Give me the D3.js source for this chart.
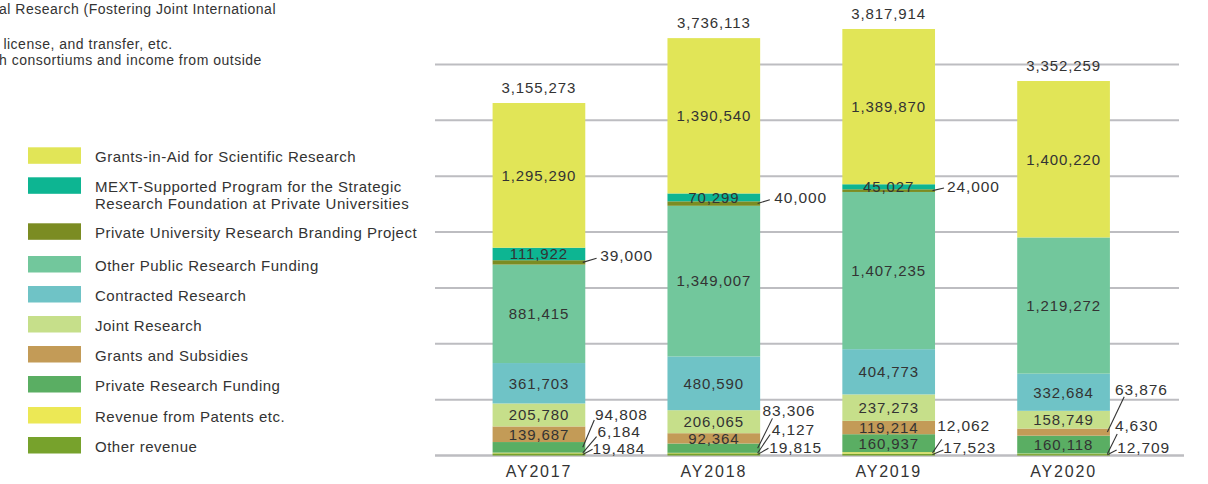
<!DOCTYPE html>
<html>
<head>
<meta charset="utf-8">
<script src="https://cdn.jsdelivr.net/npm/d3@7/dist/d3.min.js"></script>
<style>
body { margin: 0; background: #fff; }
svg text { font-family: "Liberation Sans", Arial, sans-serif; fill: #333; }
</style>
</head>
<body>
<div id="wrapper"></div>
<script>
// data (thousand yen)
const years = ["AY2017", "AY2018", "AY2019", "AY2020"];
const seriesNames = [
  "Grants-in-Aid for Scientific Research",
  "MEXT-Supported Program for the Strategic\nResearch Foundation at Private Universities",
  "Private University Research Branding Project",
  "Other Public Research Funding",
  "Contracted Research",
  "Joint Research",
  "Grants and Subsidies",
  "Private Research Funding",
  "Revenue from Patents etc.",
  "Other revenue"
];
const seriesColors = ["#e1e557", "#0db592", "#7b8c22", "#72c79c", "#6fc3c6",
  "#c6df8a", "#c39b57", "#5aae63", "#ece855", "#77a22c"];

const grantsInAid     = [1295290, 1390540, 1389870, 1400220];
const mextProgram     = [111922, 70299, 45027, 0];
const brandingProject = [39000, 40000, 24000, 0];
const otherPublic     = [881415, 1349007, 1407235, 1219272];
const contracted      = [361703, 480590, 404773, 332684];
const jointResearch   = [205780, 206065, 237273, 158749];
const grantsSubsidies = [139687, 92364, 119214, 63876];
const privateFunding  = [94808, 83306, 160937, 160118];
const patents         = [6184, 4127, 12062, 4630];
const otherRevenue    = [19484, 19815, 17523, 12709];
const totals          = [3155273, 3736113, 3817914, 3352259];
const yTicks = [0, 500000, 1000000, 1500000, 2000000, 2500000, 3000000, 3500000];

const notes = [
  "al Research (Fostering Joint International",
  " license, and transfer, etc.",
  "h consortiums and income from outside"
];

const seriesValues = [grantsInAid, mextProgram, brandingProject, otherPublic, contracted,
  jointResearch, grantsSubsidies, privateFunding, patents, otherRevenue];
const keys = seriesNames.map((d, i) => "s" + i);

const table = years.map((y, j) => {
  const row = {year: y};
  keys.forEach((k, i) => row[k] = seriesValues[i][j]);
  return row;
});

// which segments get an outside label, with a leader line
// tx: text left from bar right, ty: text centre from segment middle, ex/ey: line end from text left/centre
const callouts = [
  {year: "AY2017", s: 2, tx: 15, ty: -6.4, ex: -3.7, ey: 2.3},
  {year: "AY2018", s: 2, tx: 14, ty: -5.9, ex: -4.3, ey: 2},
  {year: "AY2019", s: 2, tx: 12, ty: -3.6, ex: -3, ey: 1},
  {year: "AY2017", s: 7, tx: 9.7, ty: -33, ex: -0.7, ey: 5.7},
  {year: "AY2018", s: 7, tx: 2.3, ty: -37.4, ex: 10, ey: 7.6},
  {year: "AY2020", s: 6, tx: 5, ty: -43, ex: 9.3, ey: 7.7},
  {year: "AY2017", s: 8, tx: 12.3, ty: -21.3, ex: -1, ey: 5},
  {year: "AY2018", s: 8, tx: 11.7, ty: -23.6, ex: -1.7, ey: 5},
  {year: "AY2019", s: 8, tx: 2.3, ty: -27.2, ex: 4.4, ey: 13.6},
  {year: "AY2020", s: 8, tx: 5, ty: -28.1, ex: 2.3, ey: 8.3},
  {year: "AY2017", s: 9, tx: 7.3, ty: -6.1, ex: 0, ey: 1},
  {year: "AY2018", s: 9, tx: 9, ty: -6.7, ex: -0.7, ey: 0.6},
  {year: "AY2019", s: 9, tx: 8.3, ty: -6.8, ex: 0, ey: 2.3},
  {year: "AY2020", s: 9, tx: 7.3, ty: -7.1, ex: -0.6, ey: 2.3}
];

const width = 1208, height = 484;
const fmt = d3.format(",");

const svg = d3.select("#wrapper")
  .append("svg")
  .attr("width", width)
  .attr("height", height);

const x = d3.scaleBand()
  .domain(years)
  .range([451.5, 1151])
  .paddingInner(0.47)
  .paddingOuter(0.235);

const y = d3.scaleLinear()
  .domain([0, 3500000])
  .range([455.5, 64.5]);

// grid
svg.append("g")
  .selectAll("line")
  .data(yTicks)
  .join("line")
  .attr("x1", 435)
  .attr("x2", d => d === 0 ? 1184 : 1179)
  .attr("y1", d => y(d))
  .attr("y2", d => y(d))
  .style("stroke", "#bdbdc1")
  .style("stroke-width", d => d === 0 ? 2.6 : 2);

// bars
const stack = d3.stack().keys(keys.slice().reverse());
const layers = stack(table);

const layerG = svg.append("g")
  .selectAll("g")
  .data(layers)
  .join("g")
  .style("fill", d => seriesColors[keys.indexOf(d.key)]);

layerG.selectAll("rect")
  .data(d => d)
  .join("rect")
  .attr("x", d => x(d.data.year))
  .attr("width", x.bandwidth())
  .attr("y", d => y(d[1]))
  .attr("height", d => y(d[0]) - y(d[1]));

// labels inside segments
const segs = [];
layers.forEach(layer => {
  const si = keys.indexOf(layer.key);
  layer.forEach(d => {
    segs.push({s: si, year: d.data.year, v: d[1] - d[0], mid: (y(d[0]) + y(d[1])) / 2});
  });
});
const isCallout = d => callouts.some(c => c.year === d.year && c.s === d.s);

svg.append("g")
  .selectAll("text")
  .data(segs.filter(d => d.v > 0 && !isCallout(d)))
  .join("text")
  .attr("x", d => x(d.year) + x.bandwidth() / 2)
  .attr("y", d => d.mid + 5.3)
  .attr("text-anchor", "middle")
  .style("font-size", "15px")
  .style("letter-spacing", "0.9px")
  .text(d => fmt(d.v));

// callouts
const calloutData = callouts.map(c => {
  const seg = segs.find(d => d.year === c.year && d.s === c.s);
  const right = x(c.year) + x.bandwidth();
  const tx = right + c.tx, ty = seg.mid + c.ty;
  return {v: seg.v, x0: right - 2.5, y0: seg.mid, tx: tx, ty: ty, x1: tx + c.ex, y1: ty + c.ey};
});

const cg = svg.append("g");
cg.selectAll("line")
  .data(calloutData)
  .join("line")
  .attr("x1", d => d.x0).attr("y1", d => d.y0)
  .attr("x2", d => d.x1).attr("y2", d => d.y1)
  .style("stroke", "#333")
  .style("stroke-width", 1.1);
cg.selectAll("text")
  .data(calloutData)
  .join("text")
  .attr("x", d => d.tx)
  .attr("y", d => d.ty + 5.4)
  .style("font-size", "15.5px")
  .style("letter-spacing", "0.9px")
  .text(d => fmt(d.v));

// totals
svg.append("g")
  .selectAll("text")
  .data(years)
  .join("text")
  .attr("x", d => x(d) + x.bandwidth() / 2)
  .attr("y", (d, i) => y(totals[i]) - 10)
  .attr("text-anchor", "middle")
  .style("font-size", "15px")
  .style("letter-spacing", "0.9px")
  .text((d, i) => fmt(totals[i]));

// x axis labels
svg.append("g")
  .selectAll("text")
  .data(years)
  .join("text")
  .attr("x", d => x(d) + x.bandwidth() / 2)
  .attr("y", 477)
  .attr("text-anchor", "middle")
  .style("font-size", "16px")
  .style("letter-spacing", "1.8px")
  .text(d => d);

// legend
const legendTop = [147.3, 177.3, 223.3, 256, 286, 316, 346, 376, 407, 437];
const legend = svg.append("g")
  .selectAll("g")
  .data(seriesNames)
  .join("g")
  .attr("transform", (d, i) => `translate(28,${legendTop[i]})`);
legend.append("rect")
  .attr("width", 53)
  .attr("height", 16.5)
  .style("fill", (d, i) => seriesColors[i]);
legend.append("text")
  .attr("x", 67)
  .attr("y", 14.5)
  .style("font-size", "15px")
  .style("letter-spacing", "0.5px")
  .selectAll("tspan")
  .data(d => d.split("\n"))
  .join("tspan")
  .attr("x", 67)
  .attr("dy", (d, i) => i === 0 ? 0 : 17.5)
  .text(d => d);

// notes cut off at the left edge
svg.append("g")
  .selectAll("text")
  .data(notes)
  .join("text")
  .attr("x", -1)
  .attr("y", (d, i) => [14, 49, 65][i])
  .style("font-size", "14px")
  .style("letter-spacing", "0.5px")
  .style("white-space", "pre")
  .text(d => d);
</script>
</body>
</html>
